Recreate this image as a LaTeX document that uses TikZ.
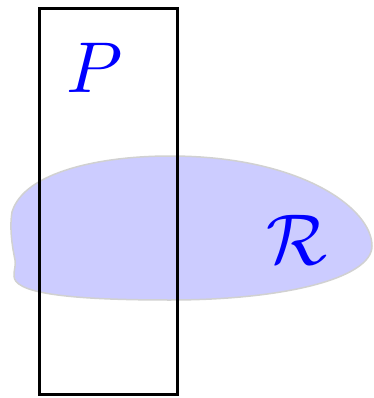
\documentclass[tikz,border=0pt]{standalone}
\usepackage{amsmath}
\usepackage{tikz}

\begin{document}
\begin{tikzpicture}[x=1pt,y=-1pt,lbl/.style={text=blue,scale=7.2,transform shape,inner sep=0pt},region/.style={fill=blue!20,draw=black!18,line width=1.5pt}]
\useasboundingbox (0,0) rectangle (373,398);
% the region
\draw[region] (170,156) .. controls (300,156) and (372,208) .. (372,246)
   .. controls (372,278) and (285,300) .. (170,300)
   .. controls (60,300) and (14,292) .. (14,276)
   .. controls (14,268) and (16,266) .. (15,260)
   .. controls (13,250) and (9,230) .. (12,212)
   .. controls (24,172) and (100,156) .. (170,156);
% the strip
\draw[line width=2.4pt] (39.5,8.5) rectangle (177.5,394.5);
\node[lbl] (P) at (95,68) {$P$};
\node[lbl] (R) at (297,240) {$\mathcal{R}$};
\end{tikzpicture}
\end{document}
